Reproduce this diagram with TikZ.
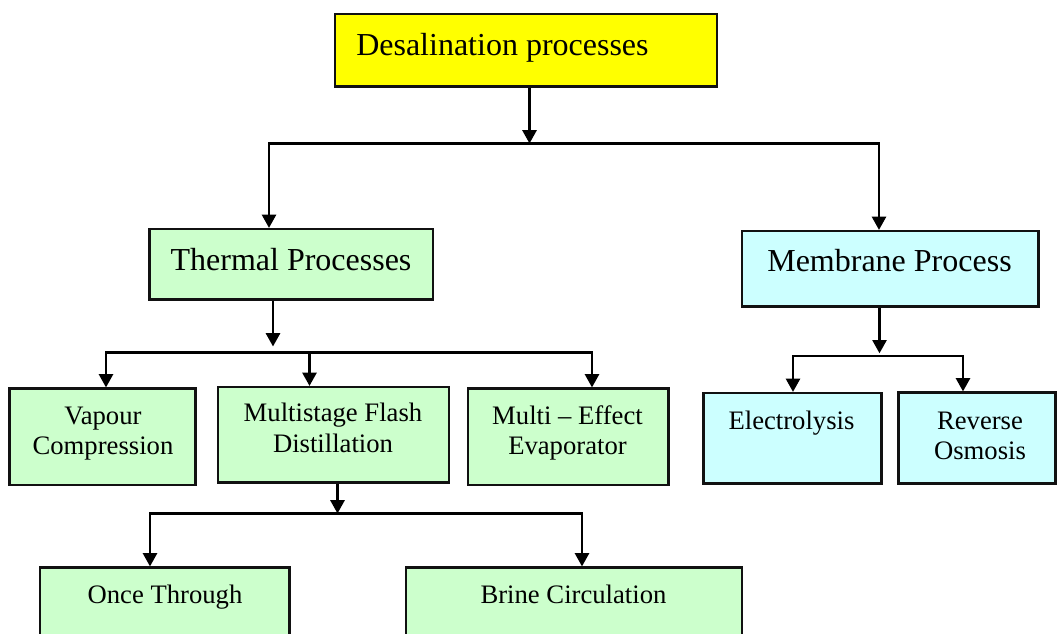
\documentclass[tikz,border=0pt]{standalone}
\usepackage{fontspec}
\setmainfont{Liberation Serif}
\usetikzlibrary{arrows.meta,fit}
\definecolor{desalyellow}{HTML}{FFFF00}
\definecolor{thermgreen}{HTML}{CCFFCC}
\definecolor{membcyan}{HTML}{CCFFFF}
\definecolor{boxedge}{HTML}{111111}
\newcommand\twolines[2]{\begin{tabular}[t]{@{}c@{}}#1\\#2\end{tabular}}

\begin{document}
\begin{tikzpicture}[x=0.75pt,y=-0.75pt,
  box/.style={draw=boxedge, line width=1.6pt, inner sep=0pt},
  bigtext/.style={font=\fontsize{24}{28}\selectfont, inner sep=0pt, anchor=base},
  smalltext/.style={font=\fontsize{20}{23}\selectfont, inner sep=0pt, anchor=base},
  conn/.style={line width=2pt, line join=miter},
  arr/.style={conn, -{Triangle[length=10pt,width=10.5pt]}}]

\useasboundingbox (0,0) rectangle (1057,633);
\clip (0,0) rectangle (1057,633);

% boxes
\node[box, fill=desalyellow, fit={(335,14) (717,86.5)}] (desal) {};
\node[box, fill=thermgreen, fit={(149.5,229) (433,299.5)}] (thermal) {};
\node[box, fill=membcyan, fit={(742,231) (1038.5,306.5)}] (membrane) {};
\node[box, fill=thermgreen, fit={(9.5,388.5) (195.5,485)}] (vapour) {};
\node[box, fill=thermgreen, fit={(218,387) (449,482.5)}] (msf) {};
\node[box, fill=thermgreen, fit={(468,388.5) (668.5,485)}] (effect) {};
\node[box, fill=membcyan, fit={(703.5,393) (881.5,483.5)}] (electro) {};
\node[box, fill=membcyan, fit={(898.5,392.5) (1055.5,483.5)}] (reverse) {};
\node[box, fill=thermgreen, fit={(40,567.5) (289.5,660)}] (once) {};
\node[box, fill=thermgreen, fit={(406,567.5) (742,660)}] (brine) {};

% labels
\node[bigtext, anchor=base west] (desal-t) at (356,55) {Desalination processes};
\node[bigtext] (thermal-t) at (291,270) {Thermal Processes};
\node[bigtext] (membrane-t) at (889.5,271.5) {Membrane Process};
\node[smalltext] (vapour-t) at (103,424) {\twolines{Vapour}{Compression}};
\node[smalltext] (msf-t) at (333,421.5) {\twolines{Multistage Flash}{Distillation}};
\node[smalltext] (effect-t) at (567.5,424) {\twolines{Multi – Effect}{Evaporator}};
\node[smalltext] (electro-t) at (791.5,429) {Electrolysis};
\node[smalltext] (reverse-t) at (980,429) {\twolines{Reverse}{Osmosis}};
\node[smalltext] (once-t) at (165,603) {Once Through};
\node[smalltext] (brine-t) at (573.5,603) {Brine Circulation};

% junction points of the connectors
\coordinate (j1) at (529.5,143.5);
\coordinate (j1a) at (269,143.5);
\coordinate (j1b) at (879,143.5);
\coordinate (j2) at (273,352.5);
\coordinate (j2a) at (106,352.5);
\coordinate (j2b) at (309.5,352.5);
\coordinate (j2c) at (592,352.5);
\coordinate (j3) at (879.5,356);
\coordinate (j3a) at (793,356);
\coordinate (j3b) at (963,356);
\coordinate (j4) at (337.5,513.5);
\coordinate (j4a) at (150,513.5);
\coordinate (j4b) at (582,513.5);

% desalination -> thermal / membrane
\draw[arr] (j1 |- desal.south) -- (j1);
\draw[arr] (j1) -- (j1a) -- (j1a |- thermal.north);
\draw[arr] (j1) -- (j1b) -- (j1b |- membrane.north);

% thermal -> three processes
\draw[arr] (j2 |- thermal.south) -- ([yshift=4.5pt]j2);
\draw[arr] (j2) -- (j2a) -- (j2a |- vapour.north);
\draw[arr] (j2) -- (j2c) -- (j2c |- effect.north);
\draw[arr] (j2b) -- (j2b |- msf.north);

% membrane -> two processes
\draw[arr] (j3 |- membrane.south) -- ([yshift=2pt]j3);
\draw[arr] (j3) -- (j3a) -- (j3a |- electro.north);
\draw[arr] (j3) -- (j3b) -- (j3b |- reverse.north);

% multistage flash -> two variants
\draw[arr] (j4 |- msf.south) -- (j4);
\draw[arr] (j4) -- (j4a) -- (j4a |- once.north);
\draw[arr] (j4) -- (j4b) -- (j4b |- brine.north);
\end{tikzpicture}
\end{document}
